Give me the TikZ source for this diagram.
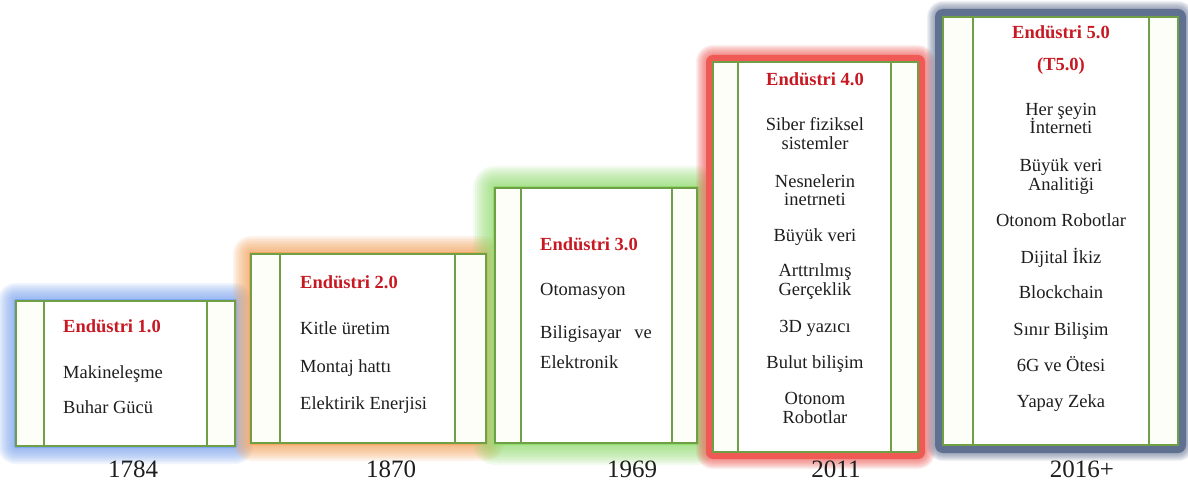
\documentclass[tikz,border=0pt]{standalone}
\usepackage{fontspec}
\setmainfont{Liberation Serif}
\usetikzlibrary{calc,backgrounds}
\definecolor{frame}{RGB}{112,160,70}
\definecolor{colfill}{RGB}{253,254,247}
\definecolor{headred}{RGB}{200,25,35}
\definecolor{ink}{RGB}{30,30,30}
\definecolor{glowA}{RGB}{125,165,240}
\definecolor{glowB}{RGB}{245,165,95}
\definecolor{glowC}{RGB}{145,220,110}
\definecolor{glowD}{RGB}{240,90,85}
\definecolor{glowE}{RGB}{96,112,145}
\newcommand\glowaround[5]{%
  \foreach \k in {1,...,10}{
    \pgfmathsetmacro\dd{#3+\k*#4/10}
    \fill[#2, fill opacity=#5, rounded corners=\dd]
      ($(#1.north west)+(-\dd,-\dd)$) rectangle ($(#1.south east)+(\dd,\dd)$);
  }
  \fill[#2, rounded corners=#3]
      ($(#1.north west)+(-#3,-#3)$) rectangle ($(#1.south east)+(#3,#3)$);
}
\newcommand\sidecols[3]{%
  \fill[colfill] (#1.north west) rectangle ($(#1.south west)+(#2,0)$);
  \fill[colfill] ($(#1.north east)+(-#3,0)$) rectangle (#1.south east);
  \draw[divider] ($(#1.north west)+(#2,0)$) -- ($(#1.south west)+(#2,0)$);
  \draw[divider] ($(#1.north east)+(-#3,0)$) -- ($(#1.south east)+(-#3,0)$);
  \draw[frame, line width=1.5pt] (#1.north west) rectangle (#1.south east);
}
\begin{document}
\begin{tikzpicture}[x=1pt,y=-1pt,
  stage/.style={draw=frame, line width=1.5pt, fill=white, inner sep=0pt, outer sep=0pt},
  divider/.style={draw=frame, line width=1.2pt},
  head/.style={font=\fontsize{18.5}{19}\selectfont\bfseries, text=headred, inner sep=0pt},
  itm/.style={font=\fontsize{18.5}{19}\selectfont, text=ink, inner sep=0pt},
  yearlbl/.style={font=\fontsize{25}{28}\selectfont, text=ink, inner sep=0pt, anchor=base}]
\useasboundingbox (0,0) rectangle (1188,481);

% boxes
\node[stage, minimum width=219pt, minimum height=145pt] (b1) at (125.5,373.5) {};
\node[stage, minimum width=235pt, minimum height=189pt] (b2) at (368.5,348.5) {};
\node[stage, minimum width=202pt, minimum height=255pt] (b3) at (596,315.5) {};
\node[stage, minimum width=205pt, minimum height=390pt] (b4) at (815.5,257) {};
\node[stage, minimum width=235pt, minimum height=428pt] (b5) at (1060.5,231) {};

\begin{scope}[on background layer]
  \fill[white] (0,0) rectangle (1188,481);
  \glowaround{b1}{glowA}{2}{16}{0.11}
  \glowaround{b2}{glowB}{2}{16}{0.11}
  \glowaround{b3}{glowC}{2}{20}{0.11}
  \glowaround{b4}{glowD}{7}{10}{0.09}
  \glowaround{b5}{glowE}{8}{8}{0.08}
\end{scope}

% side columns and dividers
\sidecols{b1}{28}{28}
\sidecols{b2}{29}{31}
\sidecols{b3}{26}{25}
\sidecols{b4}{25}{27}
\sidecols{b5}{30}{29}

% box 1
\node[head, anchor=base west] (h1) at (63,332.5) {Endüstri 1.0};
\node[itm, anchor=base west] (t1a) at (63,378.5) {Makineleşme};
\node[itm, anchor=base west] (t1b) at (63,413.5) {Buhar Gücü};

% box 2
\node[head, anchor=base west] (h2) at (300,288.5) {Endüstri 2.0};
\node[itm, anchor=base west] (t2a) at (300,334.5) {Kitle üretim};
\node[itm, anchor=base west] (t2b) at (300,372.5) {Montaj hattı};
\node[itm, anchor=base west] (t2c) at (300,409.5) {Elektirik Enerjisi};

% box 3
\node[head, anchor=base west] (h3) at (540,250.5) {Endüstri 3.0};
\node[itm, anchor=base west] (t3a) at (540,295.5) {Otomasyon};
\node[itm, anchor=base west] (t3b) at (540,338.5) {Biligisayar\hspace{13pt}ve};
\node[itm, anchor=base west] (t3c) at (540,368.5) {Elektronik};

% box 4
\node[head, anchor=base] (h4) at (815,86) {Endüstri 4.0};
\foreach \yy/\tt [count=\i] in {125/Siber fiziksel, 144/sistemler, 182/Nesnelerin, 200/inetrneti,
  236/Büyük veri, 271/Arttrılmış, 290/Gerçeklik, 327/3D yazıcı, 363/Bulut bilişim,
  399/Otonom, 418/Robotlar}{
  \node[itm, anchor=base] (t4-\i) at (815,\yy+5.5) {\tt};
}

% box 5
\node[head, anchor=base] (h5a) at (1061,38.5) {Endüstri 5.0};
\node[head, anchor=base] (h5b) at (1061,70.5) {(T5.0)};
\foreach \yy/\tt [count=\i] in {110/Her şeyin, 128/İnterneti, 166/Büyük veri, 185/Analitiği,
  221/Otonom Robotlar, 258/Dijital İkiz, 293/Blockchain, 330/Sınır Bilişim,
  366/6G ve Ötesi, 402/Yapay Zeka}{
  \node[itm, anchor=base] (t5-\i) at (1061,\yy+5.5) {\tt};
}

% years
\node[yearlbl] (y1) at (133,477) {1784};
\node[yearlbl] (y2) at (391,477) {1870};
\node[yearlbl] (y3) at (632,477) {1969};
\node[yearlbl] (y4) at (836,477) {2011};
\node[yearlbl] (y5) at (1082,477) {2016+};
\end{tikzpicture}
\end{document}
